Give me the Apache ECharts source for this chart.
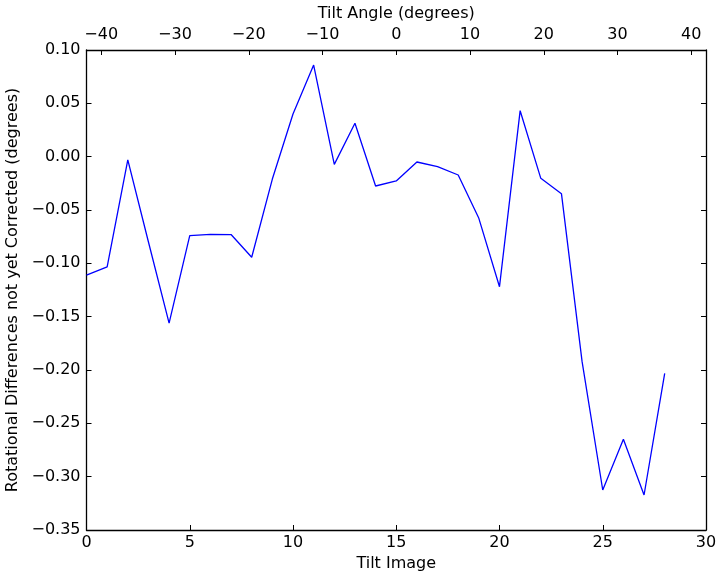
<!DOCTYPE html>
<html>
<head>
<meta charset="utf-8">
<script src="https://cdn.jsdelivr.net/npm/echarts@6/dist/echarts.min.js"></script>
<style>html,body{margin:0;padding:0;background:#fff}#c{width:725px;height:579px}</style>
</head>
<body>
<div id="c"></div>
<script>
const tiltImages = [0,1,2,3,4,5,6,7,8,9,10,11,12,13,14,15,16,17,18,19,20,21,22,23,24,25,26,27,28];
const rotDiff = [-0.111,-0.1034,-0.003,-0.080,-0.156,-0.074,-0.0729,-0.073,-0.0943,-0.021,0.040,0.0859,-0.0072,0.0313,-0.0275,-0.0228,-0.005,-0.0094,-0.0172,-0.0578,-0.1219,0.0431,-0.0203,-0.0347,-0.1922,-0.3125,-0.265,-0.3172,-0.2031];
const angleTicks = [-40,-30,-20,-10,0,10,20,30,40];

const FONT = 'DejaVu Sans';
const fmt = v => String(v).replace('-', '\u2212');
const chart = echarts.init(document.getElementById('c'), null, {renderer:'canvas'});
const axisLine = {show:true, onZero:false, lineStyle:{color:'#000', width:1.3}};
const tick = {show:true, inside:true, length:5, lineStyle:{color:'#000', width:1}};
const lbl = {color:'#000', fontFamily:FONT, fontSize:16};
chart.setOption({
  animation:false,
  backgroundColor:'#fff',
  grid:{left:86.5, right:19, top:50, bottom:49, containLabel:false, outerBoundsMode:'none'},
  xAxis:[
    {type:'value', position:'bottom', min:0, max:30, interval:5,
     name:'Tilt Image', nameLocation:'middle', nameGap:23,
     nameTextStyle:{color:'#000', fontFamily:FONT, fontSize:16},
     axisLine, axisTick:tick, splitLine:{show:false},
     axisLabel:Object.assign({margin:5, formatter:v=>fmt(v)}, lbl)},
    {type:'value', position:'top', min:-42, max:42,
     name:'Tilt Angle (degrees)', nameLocation:'middle', nameGap:24,
     nameTextStyle:{color:'#000', fontFamily:FONT, fontSize:16},
     axisLine, splitLine:{show:false},
     axisTick:Object.assign({customValues:angleTicks}, tick),
     axisLabel:Object.assign({margin:7, customValues:angleTicks, formatter:v=>fmt(v)}, lbl)}
  ],
  yAxis:[
    {type:'value', position:'left', min:-0.35, max:0.10, interval:0.05,
     name:'Rotational Differences not yet Corrected (degrees)', nameLocation:'middle', nameGap:58,
     nameTextStyle:{color:'#000', fontFamily:FONT, fontSize:16},
     axisLine, axisTick:tick, splitLine:{show:false},
     axisLabel:Object.assign({margin:6, formatter:v=>fmt(v.toFixed(2))}, lbl)},
    {type:'value', position:'right', min:-0.35, max:0.10, interval:0.05,
     axisLine, axisTick:tick, splitLine:{show:false}, axisLabel:{show:false}}
  ],
  series:[{
    type:'line', xAxisIndex:0, yAxisIndex:0,
    data: tiltImages.map((x,i)=>[x, rotDiff[i]]),
    showSymbol:false, symbol:'none',
    lineStyle:{color:'#0000ff', width:1.3}
  }]
});
</script>
</body>
</html>
